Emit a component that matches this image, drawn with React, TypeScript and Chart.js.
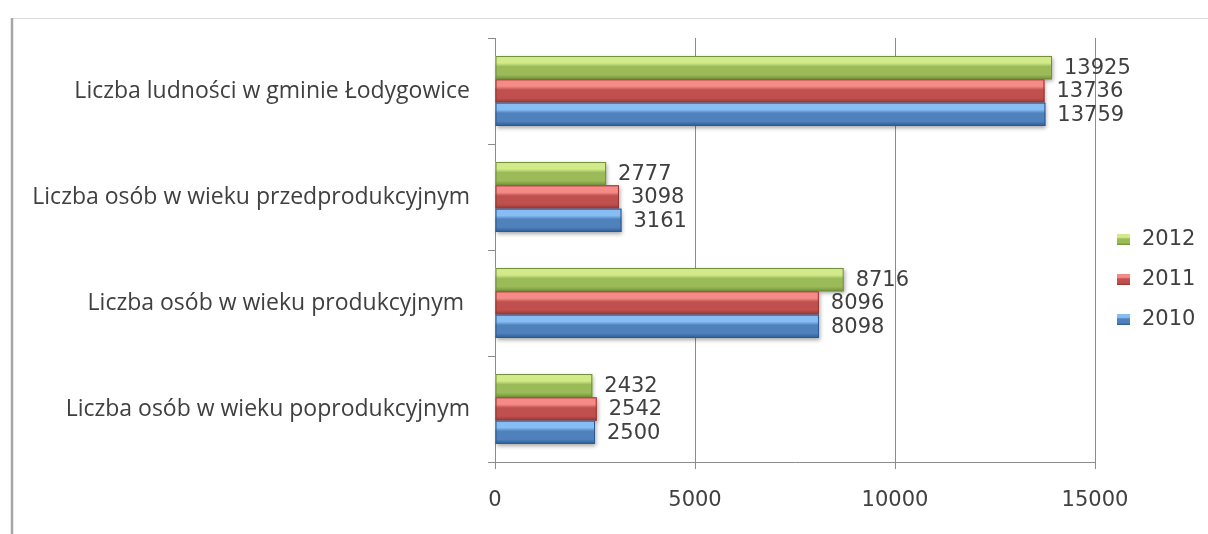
import React, { useEffect, useRef } from "react";
import { Chart, registerables } from "chart.js";

Chart.register(...registerables);

const categories = [
  "Liczba ludności w gminie Łodygowice",
  "Liczba osób w wieku przedprodukcyjnym",
  "Liczba osób w wieku produkcyjnym ",
  "Liczba osób w wieku poprodukcyjnym",
];
const seriesNames = ["2012", "2011", "2010"];
const values2012 = [13925, 2777, 8716, 2432];
const values2011 = [13736, 3098, 8096, 2542];
const values2010 = [13759, 3161, 8098, 2500];
const xTicks = [0, 5000, 10000, 15000];

const baseColors = ["#9bbb59", "#c0504d", "#4f81bd"];
const lightColors = ["#d2ea8a", "#f58a87", "#86bdf2"];
const darkColors = ["#71903a", "#963532", "#2c5b92"];

const W = 1208;
const H = 534;
const NUM_FONT = "DejaVu Sans";
const TEXT = "#404040";
const GRID = "#8c8c8c";

function barGradient(ctx: CanvasRenderingContext2D, top: number, bottom: number, i: number) {
  const g = ctx.createLinearGradient(0, top, 0, bottom);
  g.addColorStop(0, lightColors[i]);
  g.addColorStop(0.3, lightColors[i]);
  g.addColorStop(0.45, baseColors[i]);
  g.addColorStop(0.8, baseColors[i]);
  g.addColorStop(1, darkColors[i]);
  return g;
}

const decorPlugin = {
  id: "decor",
  beforeDraw(chart: any) {
    const ctx = chart.ctx as CanvasRenderingContext2D;
    ctx.save();
    ctx.fillStyle = "#ffffff";
    ctx.fillRect(0, 0, W, H);
    ctx.strokeStyle = "#dcdcdc";
    ctx.lineWidth = 1;
    ctx.beginPath();
    ctx.moveTo(12, 18.5);
    ctx.lineTo(W, 18.5);
    ctx.stroke();
    ctx.strokeStyle = "#a6a6a6";
    ctx.lineWidth = 2.5;
    ctx.beginPath();
    ctx.moveTo(12, 18);
    ctx.lineTo(12, H);
    ctx.stroke();
    ctx.restore();
  },
  beforeDatasetsDraw(chart: any) {
    const ctx = chart.ctx as CanvasRenderingContext2D;
    ctx.save();
    ctx.shadowColor = "rgba(0,0,0,0.35)";
    ctx.shadowBlur = 4;
    ctx.shadowOffsetX = 1;
    ctx.shadowOffsetY = 2;
    ctx.fillStyle = "rgba(255,255,255,1)";
    chart.data.datasets.forEach((_ds: any, di: number) => {
      const meta = chart.getDatasetMeta(di);
      meta.data.forEach((el: any) => {
        const { x, y, base, height } = el.getProps(["x", "y", "base", "height"], true);
        ctx.fillRect(base, y - height / 2, x - base, height);
      });
    });
    ctx.restore();
  },
  afterDatasetsDraw(chart: any) {
    const ctx = chart.ctx as CanvasRenderingContext2D;
    ctx.save();
    chart.data.datasets.forEach((ds: any, di: number) => {
      const meta = chart.getDatasetMeta(di);
      meta.data.forEach((el: any, idx: number) => {
        const { x, y, base, height } = el.getProps(["x", "y", "base", "height"], true);
        const top = y - height / 2;
        const bottom = y + height / 2;
        ctx.fillStyle = barGradient(ctx, top, bottom, di);
        ctx.fillRect(base, top, x - base, height);
        ctx.strokeStyle = darkColors[di];
        ctx.lineWidth = 1;
        ctx.strokeRect(base + 0.5, top + 0.5, x - base - 1, height - 1);
        // value label
        ctx.fillStyle = TEXT;
        ctx.font = `21px "${NUM_FONT}"`;
        ctx.textAlign = "left";
        ctx.textBaseline = "middle";
        ctx.fillText(String(ds.data[idx]), x + 12, y + 1);
      });
    });
    // legend
    const legendYs = [239, 279, 319];
    seriesNames.forEach((name, i) => {
      const my = legendYs[i];
      ctx.fillStyle = barGradient(ctx, my - 5, my + 6, i);
      ctx.fillRect(1117, my - 5, 13, 11);
      ctx.fillStyle = TEXT;
      ctx.font = `21px "${NUM_FONT}"`;
      ctx.textAlign = "left";
      ctx.textBaseline = "middle";
      ctx.fillText(name, 1142, my + 1);
    });
    ctx.restore();
  },
};

export default function App() {
  const ref = useRef<HTMLCanvasElement>(null);
  useEffect(() => {
    if (!ref.current) return;
    const chart = new Chart(ref.current, {
      type: "bar",
      data: {
        labels: categories,
        datasets: [
          { label: seriesNames[0], data: values2012, backgroundColor: baseColors[0] },
          { label: seriesNames[1], data: values2011, backgroundColor: baseColors[1] },
          { label: seriesNames[2], data: values2010, backgroundColor: baseColors[2] },
        ],
      },
      options: {
        indexAxis: "y",
        animation: false,
        responsive: false,
        devicePixelRatio: 1,
        categoryPercentage: 0.66,
        barPercentage: 1,
        layout: { padding: { top: 38, right: 113, left: 0, bottom: 0 } },
        plugins: { legend: { display: false }, tooltip: { enabled: false } },
        scales: {
          x: {
            min: 0,
            max: 15000,
            afterBuildTicks: (scale: any) => {
              scale.ticks = xTicks.map((v) => ({ value: v }));
            },
            afterFit: (scale: any) => {
              scale.height = H - 462;
            },
            grid: { color: GRID, lineWidth: 1, drawTicks: true, tickLength: 7 },
            border: { display: true, color: GRID },
            ticks: {
              color: TEXT,
              font: { family: NUM_FONT, size: 21 },
              padding: 19,
              maxRotation: 0,
              callback: (v: any) => String(v),
            },
          },
          y: {
            afterFit: (scale: any) => {
              scale.width = 495;
            },
            grid: { drawOnChartArea: false, drawTicks: true, tickLength: 7, color: GRID, offset: true },
            border: { display: true, color: GRID },
            ticks: {
              color: TEXT,
              font: { family: "Open Sans", size: 23 },
              padding: 18,
            },
          },
        },
      },
      plugins: [decorPlugin],
    });
    return () => chart.destroy();
  }, []);
  return (
    <div style={{ position: "absolute", left: 0, top: 0, width: W, height: H, background: "#fff" }}>
      <canvas ref={ref} width={W} height={H} />
    </div>
  );
}
